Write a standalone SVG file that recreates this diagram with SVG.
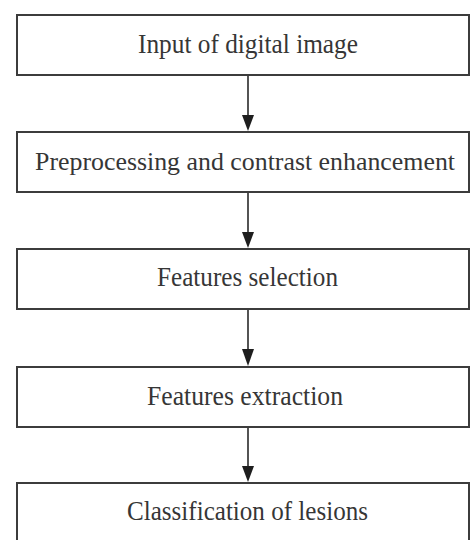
<svg xmlns="http://www.w3.org/2000/svg" width="470" height="540" viewBox="0 0 470 540">
  <style>
    .box { fill: #ffffff; stroke: #3c3c3c; stroke-width: 2; }
    .label { font-family: "Liberation Serif", "Times New Roman", serif; font-size: 27px; fill: #363636; text-anchor: middle; }
    .wide { font-size: 25.5px; }
    .link { stroke: #2a2a2a; stroke-width: 1.6; fill: none; }
    .head { fill: #1e1e1e; }
  </style>
  <rect x="0" y="0" width="470" height="540" fill="#ffffff"/>

  <g id="node-input">
    <rect class="box" x="17" y="15" width="452" height="60"/>
    <text class="label" x="248" y="53" textLength="220" lengthAdjust="spacingAndGlyphs">Input of digital image</text>
  </g>
  <g id="node-preprocessing">
    <rect class="box" x="17" y="132" width="452" height="60"/>
    <text class="label wide" x="245" y="170" textLength="420" lengthAdjust="spacingAndGlyphs">Preprocessing and contrast enhancement</text>
  </g>
  <g id="node-selection">
    <rect class="box" x="17" y="249" width="452" height="60"/>
    <text class="label" x="247.5" y="286" textLength="181" lengthAdjust="spacingAndGlyphs">Features selection</text>
  </g>
  <g id="node-extraction">
    <rect class="box" x="17" y="367" width="452" height="60"/>
    <text class="label" x="245" y="405" textLength="196" lengthAdjust="spacingAndGlyphs">Features extraction</text>
  </g>
  <g id="node-classification">
    <rect class="box" x="17" y="483" width="452" height="62"/>
    <text class="label" x="247.5" y="520" textLength="241" lengthAdjust="spacingAndGlyphs">Classification of lesions</text>
  </g>

  <g id="connectors">
    <line class="link" x1="248" y1="76" x2="248" y2="116"/>
    <polygon class="head" points="242,115 254,115 248,131"/>
    <line class="link" x1="248" y1="193" x2="248" y2="233"/>
    <polygon class="head" points="242,232 254,232 248,248"/>
    <line class="link" x1="248" y1="310" x2="248" y2="350"/>
    <polygon class="head" points="242,349 254,349 248,366"/>
    <line class="link" x1="248" y1="428" x2="248" y2="467"/>
    <polygon class="head" points="242,466 254,466 248,482"/>
  </g>
</svg>
